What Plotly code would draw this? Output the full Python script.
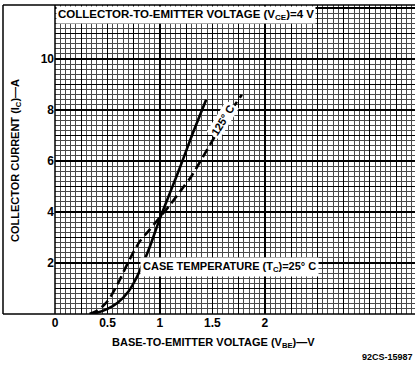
import numpy as np
import plotly.graph_objects as go

# ---- data ----
v_25 = [0.33, 0.4, 0.5, 0.6, 0.7, 0.78, 0.84, 0.9, 1.0, 1.1, 1.2, 1.3, 1.44]
i_25 = [0.0, 0.05, 0.2, 0.45, 0.88, 1.45, 2.0, 2.6, 3.75, 4.8, 5.85, 6.95, 8.4]

v_125 = [0.33, 0.4, 0.5, 0.6, 0.7, 0.8, 0.9, 1.0, 1.1, 1.2, 1.3, 1.4, 1.5, 1.6, 1.78]
i_125 = [0.0, 0.12, 0.5, 1.2, 2.05, 2.8, 3.3, 3.8, 4.3, 4.85, 5.4, 6.1, 6.8, 7.5, 8.6]

x_tick_vals = [0, 0.5, 1, 1.5, 2]
x_tick_text = ["0", "0.5", "1", "1.5", "2"]
y_tick_vals = [2, 4, 6, 8, 10]
y_tick_text = ["2", "4", "6", "8", "10"]

X_MAX = 3.43
Y_MAX = 12.12

FONT = "Liberation Sans"

# major grid positions with labels only where the reference has them
x_major = [round(v, 2) for v in np.arange(0, X_MAX, 0.25)]
x_major_text = [x_tick_text[x_tick_vals.index(v)] if v in x_tick_vals else "" for v in x_major]
y_major = [float(v) for v in range(0, 13)]
y_major_text = [y_tick_text[y_tick_vals.index(v)] if v in y_tick_vals else "" for v in y_major]

fig = go.Figure()
fig.add_trace(go.Scatter(x=v_25, y=i_25, mode="lines",
                         line=dict(color="black", width=2.6, shape="spline", smoothing=0.8),
                         showlegend=False, hoverinfo="skip"))
fig.add_trace(go.Scatter(x=v_125, y=i_125, mode="lines",
                         line=dict(color="black", width=2.6, dash="9px,5px", shape="spline", smoothing=0.8),
                         showlegend=False, hoverinfo="skip"))

fig.update_layout(
    width=415, height=365,
    margin=dict(l=55, r=0, t=5, b=51),
    paper_bgcolor="white", plot_bgcolor="white",
    font=dict(family=FONT, color="black", size=11),
    xaxis=dict(range=[0, X_MAX], tickmode="array", tickvals=x_major, ticktext=x_major_text,
               automargin=False,
               showgrid=True, gridcolor="black", gridwidth=1.2,
               minor=dict(dtick=0.05, showgrid=True, gridcolor="#4a4a4a", gridwidth=1),
               zeroline=False, showline=False, ticks="",
               tickfont=dict(family=FONT, size=12, weight="bold")),
    yaxis=dict(range=[0, Y_MAX], tickmode="array", tickvals=y_major, ticktext=y_major_text,
               automargin=False,
               showgrid=True, gridcolor="black", gridwidth=1.2,
               minor=dict(dtick=0.2, showgrid=True, gridcolor="#4a4a4a", gridwidth=1),
               zeroline=False, showline=False, ticks="",
               tickfont=dict(family=FONT, size=12, weight="bold")),
)

# frame lines
px_x = lambda p: (p - 55) / 360.0
px_y = lambda p: (314 - p) / 309.0
shapes = [
    dict(type="line", xref="paper", yref="paper", x0=px_x(3), x1=1, y0=px_y(5), y1=px_y(5),
         line=dict(color="black", width=1.5)),
    dict(type="line", xref="paper", yref="paper", x0=px_x(3), x1=1, y0=0, y1=0,
         line=dict(color="black", width=1.5)),
    dict(type="line", xref="paper", yref="paper", x0=px_x(3), x1=px_x(3), y0=0, y1=px_y(5),
         line=dict(color="black", width=1.5)),
    dict(type="line", xref="paper", yref="paper", x0=0, x1=0, y0=0, y1=1,
         line=dict(color="black", width=1.5)),
]
fig.update_layout(shapes=shapes)

bold = dict(family=FONT, size=11, color="black", weight="bold")
annotations = [
    dict(text="COLLECTOR-TO-EMITTER VOLTAGE (V<sub>CE</sub>)=4 V", xref="paper", yref="paper",
         x=px_x(56), y=px_y(5.5), xanchor="left", yanchor="top", showarrow=False,
         bgcolor="white", borderpad=1, font=dict(family=FONT, size=11.5, color="black", weight="bold")),
    dict(text="CASE TEMPERATURE (T<sub>C</sub>)=25° C", x=1.03, y=1.62, xanchor="left", yanchor="middle",
         showarrow=True, ax=0.81, ay=1.84, axref="x", ayref="y", arrowhead=0, arrowwidth=1.2,
         arrowcolor="black", standoff=0, bgcolor="white", borderpad=2, font=bold),
    dict(text="125° C", x=1.6, y=7.6, showarrow=False, textangle=-58, bgcolor="white",
         borderpad=1, font=bold),
    dict(text="BASE-TO-EMITTER VOLTAGE (V<sub>BE</sub>)—V", xref="paper", yref="paper",
         x=px_x(213), y=px_y(343), xanchor="center", yanchor="middle", showarrow=False, font=bold),
    dict(text="COLLECTOR CURRENT (I<sub>C</sub>)—A", xref="paper", yref="paper",
         x=px_x(16), y=px_y(161), xanchor="center", yanchor="middle", textangle=-90,
         showarrow=False, font=bold),
    dict(text="92CS-15987", xref="paper", yref="paper", x=1, y=px_y(357), xanchor="right",
         yanchor="middle", showarrow=False, font=dict(family=FONT, size=9, color="black", weight="bold")),
]
fig.update_layout(annotations=annotations)

fig.write_html("out.html", config={"displayModeBar": False, "staticPlot": True},
               post_script="document.body.style.margin='0';")
